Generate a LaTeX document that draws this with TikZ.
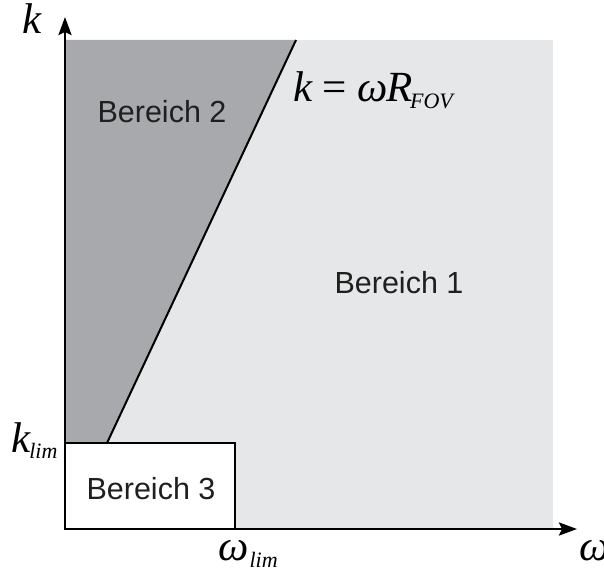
\documentclass[tikz,border=0pt]{standalone}
\usepackage{fontspec}
\setmainfont{Liberation Sans}
\newfontfamily\tms{Liberation Serif}
\usetikzlibrary{arrows.meta,calc}
\definecolor{lightregion}{HTML}{E6E7E8}
\definecolor{darkregion}{HTML}{A7A9AC}
\tikzset{
  axis/.style={line width=2.6pt,-{Stealth[length=18pt,width=13pt,inset=3pt]}},
  border/.style={line width=2pt},
  region/.style={font=\fontsize{30.5}{30.5}\selectfont,text=black!88,inner sep=0pt},
  mlabel/.style={font=\tms\itshape\fontsize{43}{43}\selectfont,inner sep=0pt},
}
\newcommand{\subtxt}[2][6.5pt]{\raisebox{-#1}{\fontsize{22}{22}\selectfont #2}}
\begin{document}
\begin{tikzpicture}[x=1pt,y=-1pt]
\path[use as bounding box] (0,0) rectangle (604,572);
% coordinates
\coordinate (O) at (65,529);
\coordinate (Ox) at (63.7,529);
\coordinate (ktip) at (65,17);
\coordinate (wtip) at (577,529);
\coordinate (TL) at (65,40);
\coordinate (TR) at (553,40);
\coordinate (BR) at (553,529);
\coordinate (LT) at (296,40);
\coordinate (LB) at (107,443);
\coordinate (KL) at (65,443);
\coordinate (BoxTR) at (235,443);
\coordinate (BoxBR) at (235,529);
% regions
\fill[lightregion] (TL) rectangle (BR);
\fill[darkregion] (TL) -- (LT) -- (LB) -- (KL) -- cycle;
\filldraw[fill=white,border] (KL) rectangle (BoxBR);
\draw[border] (LT) -- (LB);
% axes
\draw[axis] (O) -- (ktip);
\draw[axis] (Ox) -- (wtip);
% labels
\node[region] (b1) at (399,283) {Bereich 1};
\node[region] (b2) at (162,112) {Bereich 2};
\node[region] (b3) at (151,489) {Bereich 3};
\node[mlabel,anchor=base west] (kax) at (22,34) {k};
\node[mlabel,anchor=base west] (wax) at (579,560) {ω};
\node[mlabel,anchor=base west] (klim) at (11,452) {k\hspace{-1pt}\subtxt[6pt]{lim}};
\node[mlabel,anchor=base west] (wlim) at (218,560) {ω\hspace{1pt}\subtxt[7pt]{lim}};
\node[mlabel,anchor=base west] (eq) at (293,102) {k\hspace{10pt}{\upshape=}\hspace{11pt}ω\hspace{-1pt}R\hspace{-3pt}\subtxt{FOV}};
\end{tikzpicture}
\end{document}
